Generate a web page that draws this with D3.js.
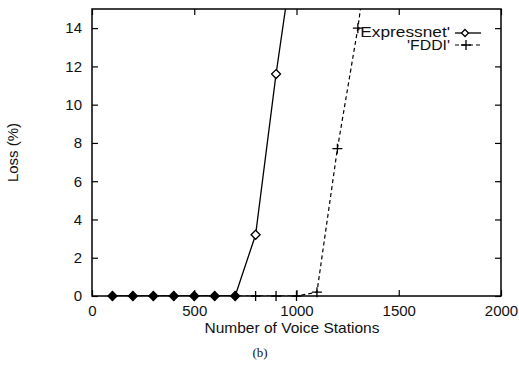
<html>
<head>
<meta charset="utf-8">
<script src="https://d3js.org/d3.v7.min.js"></script>
<style>
  body { margin: 0; background: white; }
  text { font-family: "Liberation Sans", Arial, sans-serif; fill: #111; }
</style>
</head>
<body>
<div id="chart"></div>
<script>
// data
var stations = [100, 200, 300, 400, 500, 600, 700, 800, 900, 1000, 1100, 1200, 1300, 1400];
var expressnet = [0, 0, 0, 0, 0, 0, 0, 3.2, 11.6, 19, null, null, null, null];
var fddi = [0, 0, 0, 0, 0, 0, 0, 0, 0, 0, 0.2, 7.7, 14.0, 22];
var xTicks = [0, 500, 1000, 1500, 2000];
var yTicks = [0, 2, 4, 6, 8, 10, 12, 14];

var W = 519, H = 365;
var margin = {top: 9, right: 18, bottom: 69, left: 92};
var width = W - margin.left - margin.right,
    height = H - margin.top - margin.bottom;

var svg = d3.select("#chart").append("svg")
    .attr("width", W).attr("height", H);
var g = svg.append("g")
    .attr("transform", "translate(" + margin.left + "," + margin.top + ")");

var x = d3.scaleLinear().domain([0, 2000]).range([0, width]);
var y = d3.scaleLinear().domain([0, 15]).range([height, 0]);

// axes, ticks pointing inwards on all four sides
g.append("g").attr("transform", "translate(0," + height + ")")
  .call(d3.axisBottom(x).tickValues(xTicks).tickFormat(d3.format("d"))
    .tickSizeInner(-6).tickSizeOuter(0).tickPadding(9));
g.append("g").call(d3.axisTop(x).tickValues(xTicks).tickSizeInner(-6).tickSizeOuter(0).tickFormat(""));
g.append("g").call(d3.axisLeft(y).tickValues(yTicks).tickSizeInner(-6).tickSizeOuter(0).tickPadding(10));
g.append("g").attr("transform", "translate(" + width + ",0)")
  .call(d3.axisRight(y).tickValues(yTicks).tickSizeInner(-6).tickSizeOuter(0).tickFormat(""));
g.selectAll(".domain").remove();
g.selectAll(".tick line").attr("stroke", "#000").attr("stroke-width", 1.2);
g.selectAll(".tick text").attr("font-size", 15).attr("fill", "#111")
  .attr("font-family", "Liberation Sans, Arial, sans-serif");

g.append("rect").attr("width", width).attr("height", height)
  .attr("fill", "none").attr("stroke", "#000").attr("stroke-width", 1.5);

g.append("clipPath").attr("id", "clip").append("rect")
  .attr("width", width).attr("height", height);
var plot = g.append("g").attr("clip-path", "url(#clip)");

var line = d3.line()
  .defined(function(d) { return d[1] != null; })
  .x(function(d) { return x(d[0]); })
  .y(function(d) { return y(d[1]); });

var ePts = stations.map(function(s, i) { return [s, expressnet[i]]; });
var fPts = stations.map(function(s, i) { return [s, fddi[i]]; });

plot.append("path").datum(fPts).attr("d", line)
  .attr("fill", "none").attr("stroke", "#000").attr("stroke-width", 1.2)
  .attr("stroke-dasharray", "4,3");
plot.append("path").datum(ePts).attr("d", line)
  .attr("fill", "none").attr("stroke", "#000").attr("stroke-width", 1.3);

function diamond(s) { return "M0," + (-s) + "L" + s + ",0L0," + s + "L" + (-s) + ",0Z"; }
function plus(s) { return "M" + (-s) + ",0H" + s + "M0," + (-s) + "V" + s; }

// markers are not clipped at the bottom edge, only points inside the range
var marks = g.append("g");
marks.selectAll(".fp").data(fPts.filter(function(d) { return d[1] != null && d[1] <= 15; }))
  .enter().append("path")
  .attr("transform", function(d) { return "translate(" + x(d[0]) + "," + y(d[1]) + ")"; })
  .attr("d", plus(5)).attr("stroke", "#000").attr("stroke-width", 1.3).attr("fill", "none");

marks.selectAll(".ep").data(ePts.filter(function(d) { return d[1] != null && d[1] <= 15; }))
  .enter().append("path")
  .attr("transform", function(d) { return "translate(" + x(d[0]) + "," + y(d[1]) + ")"; })
  .attr("d", diamond(4.5))
  .attr("fill", function(d) { return d[1] == 0 ? "#000" : "#fff"; })
  .attr("stroke", "#000").attr("stroke-width", 1.3);

// legend (page coordinates)
var lg = svg.append("g");
lg.append("text").attr("x", 450).attr("y", 37)
  .attr("text-anchor", "end").attr("font-size", 14)
  .attr("textLength", 93).attr("lengthAdjust", "spacingAndGlyphs").text("'Expressnet'");
lg.append("line").attr("x1", 455).attr("x2", 481).attr("y1", 33).attr("y2", 33)
  .attr("stroke", "#000").attr("stroke-width", 1.3);
lg.append("path").attr("transform", "translate(465,33)")
  .attr("d", diamond(3.5)).attr("fill", "#fff").attr("stroke", "#000").attr("stroke-width", 1.3);

lg.append("text").attr("x", 450).attr("y", 50)
  .attr("text-anchor", "end").attr("font-size", 14)
  .attr("textLength", 43).attr("lengthAdjust", "spacingAndGlyphs").text("'FDDI'");
lg.append("line").attr("x1", 455).attr("x2", 481).attr("y1", 45).attr("y2", 45)
  .attr("stroke", "#000").attr("stroke-width", 1.2).attr("stroke-dasharray", "4,3");
lg.append("path").attr("transform", "translate(466,45)")
  .attr("d", plus(5)).attr("stroke", "#000").attr("stroke-width", 1.3);

// axis titles
svg.append("text")
  .attr("transform", "translate(18," + (margin.top + height / 2) + ") rotate(-90)")
  .attr("text-anchor", "middle").attr("font-size", 15).text("Loss (%)");
svg.append("text").attr("x", 292).attr("y", 333)
  .attr("text-anchor", "middle").attr("font-size", 15)
  .attr("textLength", 175).attr("lengthAdjust", "spacingAndGlyphs").text("Number of Voice Stations");
svg.append("text").attr("x", 260).attr("y", 357)
  .attr("text-anchor", "middle").attr("font-size", 13)
  .style("font-family", "Liberation Serif, Times New Roman, serif").text("(b)");
</script>
</body>
</html>
